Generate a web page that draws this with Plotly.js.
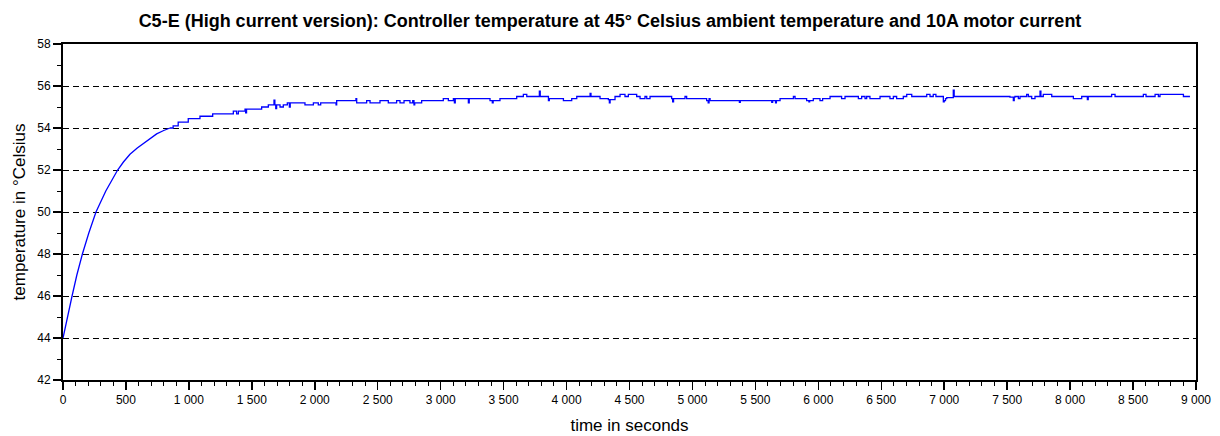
<!DOCTYPE html>
<html>
<head>
<meta charset="utf-8">
<script src="https://cdn.plot.ly/plotly-3.0.1.min.js"></script>
<style>html,body{margin:0;padding:0;background:#fff;}#chart{width:1220px;height:436px;}</style>
</head>
<body>
<div id="chart"></div>
<script>
// Warm-up phase (smooth rise), seconds / °C
var riseTime = [0, 20, 40, 72, 110, 154, 205, 262, 340, 434, 480, 532, 590, 638, 690, 744, 800, 850];
var riseTemp = [44.0, 44.6, 45.15, 46.0, 47.0, 48.0, 49.0, 50.0, 51.0, 52.0, 52.38, 52.75, 53.05, 53.27, 53.5, 53.72, 53.88, 54.0];

// Quantised plateau phase (step values), seconds / °C
var stepTime = [
  850, 875, 915, 995, 1088, 1189, 1353, 1379, 1393, 1446,
  1451, 1458, 1578, 1631, 1676, 1683, 1690, 1697, 1724, 1750,
  1782, 1798, 1805, 1922, 1989, 2028, 2047, 2169, 2174, 2327,
  2333, 2412, 2439, 2518, 2584, 2650, 2677, 2709, 2756, 2778,
  2788, 2794, 2849, 3021, 3061, 3101, 3109, 3116, 3220, 3227,
  3392, 3410, 3417, 3471, 3604, 3657, 3684, 3784, 3791, 3856,
  3863, 3975, 4041, 4081, 4187, 4194, 4266, 4332, 4340, 4346,
  4385, 4425, 4464, 4491, 4557, 4584, 4623, 4637, 4663, 4835,
  4843, 4850, 4941, 4954, 5113, 5125, 5132, 5140, 5373, 5380,
  5630, 5637, 5660, 5667, 5696, 5802, 5815, 5907, 5925, 5931,
  5960, 6013, 6034, 6093, 6185, 6212, 6318, 6344, 6371, 6384,
  6410, 6490, 6569, 6596, 6622, 6675, 6702, 6742, 6861, 6887,
  6913, 6934, 6993, 7000, 7010, 7020, 7072, 7079, 7522, 7549,
  7556, 7562, 7589, 7602, 7655, 7668, 7695, 7721, 7761, 7768,
  7787, 7854, 8026, 8092, 8137, 8144, 8330, 8357, 8582, 8603,
  8675, 8701, 8714, 8900, 8952
];
var stepTemp = [
  54.0, 54.1, 54.28, 54.45, 54.56, 54.67, 54.8, 54.67, 54.8, 54.9,
  54.72, 54.9, 55.0, 55.1, 55.33, 55.1, 54.92, 55.1, 55.0, 55.1,
  55.2, 55.0, 55.2, 55.1, 55.2, 55.1, 55.2, 55.1, 55.3, 55.4,
  55.2, 55.3, 55.2, 55.3, 55.2, 55.3, 55.2, 55.3, 55.2, 55.3,
  55.1, 55.2, 55.3, 55.4, 55.3, 55.4, 55.2, 55.4, 55.2, 55.4,
  55.3, 55.2, 55.3, 55.4, 55.5, 55.6, 55.5, 55.75, 55.5, 55.3,
  55.4, 55.3, 55.4, 55.5, 55.65, 55.5, 55.4, 55.35, 55.2, 55.35,
  55.5, 55.6, 55.5, 55.6, 55.5, 55.4, 55.5, 55.4, 55.5, 55.4,
  55.25, 55.4, 55.5, 55.4, 55.3, 55.2, 55.4, 55.3, 55.22, 55.3,
  55.22, 55.3, 55.2, 55.3, 55.4, 55.5, 55.4, 55.3, 55.25, 55.3,
  55.4, 55.3, 55.4, 55.5, 55.4, 55.5, 55.4, 55.5, 55.4, 55.5,
  55.4, 55.5, 55.4, 55.5, 55.4, 55.5, 55.6, 55.5, 55.6, 55.5,
  55.6, 55.5, 55.25, 55.3, 55.4, 55.45, 55.8, 55.5, 55.47, 55.3,
  55.47, 55.5, 55.4, 55.5, 55.6, 55.5, 55.4, 55.5, 55.75, 55.5,
  55.6, 55.5, 55.4, 55.5, 55.35, 55.5, 55.6, 55.5, 55.6, 55.5,
  55.6, 55.5, 55.6, 55.5, 55.5
];

var xTickVals = [0, 500, 1000, 1500, 2000, 2500, 3000, 3500, 4000, 4500, 5000, 5500, 6000, 6500, 7000, 7500, 8000, 8500, 9000];
var xTickText = ["0", "500", "1 000", "1 500", "2 000", "2 500", "3 000", "3 500", "4 000", "4 500", "5 000", "5 500", "6 000", "6 500", "7 000", "7 500", "8 000", "8 500", "9 000"];
var yTickVals = [42, 44, 46, 48, 50, 52, 54, 56, 58];

var FONT = "Liberation Sans, Arial, Helvetica, sans-serif";
var lineStyle = {color: "#0000ff", width: 1.3};

var traces = [
  {x: riseTime, y: riseTemp, type: "scatter", mode: "lines", line: Object.assign({shape: "linear"}, lineStyle), showlegend: false, hoverinfo: "skip"},
  {x: stepTime, y: stepTemp, type: "scatter", mode: "lines", line: Object.assign({shape: "hv"}, lineStyle), showlegend: false, hoverinfo: "skip"}
];

var layout = {
  width: 1220, height: 436,
  margin: {l: 63, r: 24, t: 44, b: 56, pad: 0},
  paper_bgcolor: "#ffffff", plot_bgcolor: "#ffffff",
  font: {family: FONT, color: "#000000", size: 12},
  showlegend: false,
  title: {
    text: "<b>C5-E (High current version): Controller temperature at 45° Celsius ambient temperature and 10A motor current</b>",
    font: {family: FONT, size: 18, color: "#000000"},
    x: 0.5, xref: "container", xanchor: "center",
    y: 1 - 21 / 436, yref: "container", yanchor: "middle"
  },
  xaxis: {
    range: [0, 9000], autorange: false,
    tickmode: "array", tickvals: xTickVals, ticktext: xTickText,
    ticks: "outside", ticklen: 8, tickwidth: 1.5, tickcolor: "#000000",
    minor: {dtick: 100, tick0: 0, ticks: "outside", ticklen: 4, tickwidth: 1, tickcolor: "#000000", showgrid: false},
    showline: true, linecolor: "#000000", linewidth: 2, mirror: true,
    showgrid: false, zeroline: false,
    tickfont: {family: FONT, size: 12, color: "#000000"},
    title: {text: "time in seconds", font: {family: FONT, size: 17, color: "#000000"}, standoff: 13}
  },
  yaxis: {
    range: [42, 58], autorange: false,
    tickmode: "array", tickvals: yTickVals,
    ticks: "outside", ticklen: 8, tickwidth: 1.5, tickcolor: "#000000",
    minor: {dtick: 1, tick0: 42, ticks: "outside", ticklen: 4, tickwidth: 1, tickcolor: "#000000", showgrid: false},
    showline: true, linecolor: "#000000", linewidth: 2, mirror: true,
    showgrid: true, gridcolor: "#000000", gridwidth: 1, griddash: "6px,4px",
    zeroline: false,
    tickfont: {family: FONT, size: 12, color: "#000000"},
    title: {text: "temperature in °Celsius", font: {family: FONT, size: 17, color: "#000000"}, standoff: 7}
  }
};

Plotly.newPlot("chart", traces, layout, {staticPlot: true, displayModeBar: false});
</script>
</body>
</html>
